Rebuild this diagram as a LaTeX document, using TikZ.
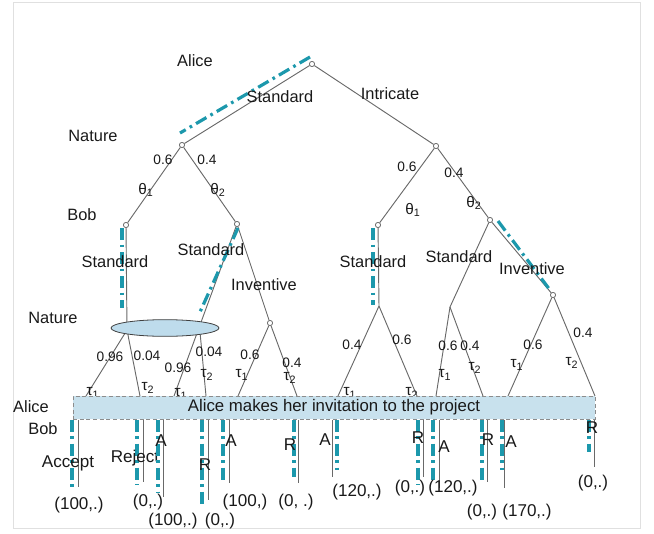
\documentclass[tikz,border=0pt]{standalone}
\usepackage{fontspec}
\setmainfont{Liberation Sans}
\usetikzlibrary{shapes.geometric}
\definecolor{teal1}{RGB}{28,152,172}
\definecolor{barfill}{RGB}{200,225,237}
\definecolor{ellfill}{RGB}{190,220,236}
\definecolor{edgegray}{RGB}{105,105,105}
\definecolor{txt}{RGB}{25,25,25}
\begin{document}
\begin{tikzpicture}[x=0.75pt,y=-0.75pt,
  dec/.style={circle,draw=edgegray,fill=white,inner sep=0pt,minimum size=3.8pt,line width=0.5pt},
  edge/.style={draw=edgegray,line width=0.7pt},
  eq/.style={draw=teal1,line width=2.4pt,dash pattern=on 9pt off 3.5pt on 2pt off 3.5pt},
  lab/.style={text=txt,font=\fontsize{12.3}{14}\selectfont,inner sep=1pt},
  prob/.style={text=txt,font=\fontsize{10.3}{12}\selectfont,inner sep=0.5pt},
  tau/.style={text=txt,font=\fontsize{11.5}{13}\selectfont,inner sep=0.5pt},
  pay/.style={text=txt,font=\fontsize{12.8}{14}\selectfont,inner sep=1pt},
  act/.style={text=txt,font=\fontsize{12.8}{14}\selectfont,inner sep=1pt}]
\useasboundingbox (0,0) rectangle (654,533);
\draw[black!12,line width=0.6pt] (13,2) rectangle (640,528);

% decision nodes
\node[dec] (root) at (312,64) {};
\node[dec] (natL) at (182,145) {};
\node[dec] (natR) at (436,146) {};
\node[dec] (bobLL) at (126,225) {};
\node[dec] (bobLR) at (237,224) {};
\node[dec] (bobRL) at (378,225) {};
\node[dec] (bobRR) at (490,220) {};
\coordinate (inL) at (127,330);
\coordinate (inR) at (200,332);
\node[dec] (inv) at (270,323) {};
\coordinate (n3) at (379,306);
\coordinate (n4) at (450,307);
\node[dec] (n5) at (553,295) {};
% ends at bar top
\foreach \n/\x in {t1/86,t2/140,t3/174,t4/206,t5/238,t6/297,t7/338,t8/417,t9/436,t10/483,t11/508,t12/595}
  \coordinate (\n) at (\x,396);

% top edges
\draw[edge] (root) -- (natL);
\draw[edge] (root) -- (natR);
\draw[edge] (natL) -- (bobLL);
\draw[edge] (natL) -- (bobLR);
\draw[edge] (natR) -- (bobRL);
\draw[edge] (natR) -- (bobRR);
\draw[edge] (bobLL) -- (inL);
\draw[edge] (bobLR) -- (t3);
\draw[edge] (bobLR) -- (inv);
\draw[edge] (bobRL) -- (n3);
\draw[edge] (bobRR) -- (n4);
\draw[edge] (bobRR) -- (n5);
\draw[edge] (inL) -- (t1);
\draw[edge] (inL) -- (t2);
\draw[edge] (inR) -- (t4);
\draw[edge] (inv) -- (t5);
\draw[edge] (inv) -- (t6);
\draw[edge] (n3) -- (t7);
\draw[edge] (n3) -- (t8);
\draw[edge] (n4) -- (t9);
\draw[edge] (n4) -- (t10);
\draw[edge] (n5) -- (t11);
\draw[edge] (n5) -- (t12);

% redraw nodes on top
\foreach \n in {root,natL,natR,bobLL,bobLR,bobRL,bobRR,inv,n5}
  \node[dec] at (\n) {};

% equilibrium paths (upper)
\draw[eq] ([shift={(-2,-7)}]root.center) -- ([shift={(-2,-12)}]natL.center);
\draw[eq] ([shift={(-4,3)}]bobLL.center) -- ([shift={(-4,83)}]bobLL.center);
\draw[eq] ([shift={(1,4)}]bobLR.center) -- ([shift={(-37,88)}]bobLR.center);
\draw[eq] ([shift={(-5,3)}]bobRL.center) -- ([shift={(-5,80)}]bobRL.center);
\draw[eq] ([shift={(8,1)}]bobRR.center) -- ([shift={(-3,-5)}]n5.center);

% ellipse (information set)
\node[ellipse,draw=black!75,fill=ellfill,line width=0.6pt,minimum width=81pt,minimum height=12.5pt,inner sep=0pt] (ell) at (165,328) {};

% labels
\node[lab] (lAlice) at (195,61) {Alice};
\node[lab] (lNat1) at (93,136) {Nature};
\node[lab] (lBob1) at (82,215) {Bob};
\node[lab] (lNat2) at (53,318) {Nature};
\node[lab] (lAlice2) at (31,407) {Alice};
\node[lab] (lBob2) at (43,429) {Bob};
\node[lab] at (280,97) {Standard};
\node[lab] at (390,94) {Intricate};
\node[lab] at (115,262) {Standard};
\node[lab] at (211,250) {Standard};
\node[lab] at (264,285) {Inventive};
\node[lab] at (373,262) {Standard};
\node[lab] at (459,257) {Standard};
\node[lab] at (532,269) {Inventive};

\node[prob] at (163,160) {0.6};
\node[prob] at (207,160) {0.4};
\node[tau] at (146,190) {θ\textsubscript{1}};
\node[tau] at (218,190) {θ\textsubscript{2}};
\node[prob] at (407,167) {0.6};
\node[prob] at (454,173) {0.4};
\node[tau] at (413,210) {θ\textsubscript{1}};
\node[tau] at (474,203) {θ\textsubscript{2}};

\node[prob] at (110,357) {0.96};
\node[prob] at (147,356) {0.04};
\node[tau] at (93,393) {τ\textsubscript{1}};
\node[tau] at (148,388) {τ\textsubscript{2}};
\node[prob] at (178,368) {0.96};
\node[prob] at (209,352) {0.04};
\node[tau] at (181,394) {τ\textsubscript{1}};
\node[tau] at (207,375) {τ\textsubscript{2}};
\node[prob] at (250,355) {0.6};
\node[prob] at (292,363) {0.4};
\node[tau] at (242,375) {τ\textsubscript{1}};
\node[tau] at (290,378) {τ\textsubscript{2}};
\node[prob] at (352,345) {0.4};
\node[prob] at (402,340) {0.6};
\node[tau] at (350,393) {τ\textsubscript{1}};
\node[tau] at (412,393) {τ\textsubscript{2}};
\node[prob] at (448,346) {0.6};
\node[prob] at (470,346) {0.4};
\node[tau] at (445,375) {τ\textsubscript{1}};
\node[tau] at (475,368) {τ\textsubscript{2}};
\node[prob] at (533,345) {0.6};
\node[prob] at (583,333) {0.4};
\node[tau] at (517,365) {τ\textsubscript{1}};
\node[tau] at (572,363) {τ\textsubscript{2}};

% bar (Alice's information set)
\node[draw=black!45,densely dashed,fill=barfill,line width=0.5pt,minimum width=391.5pt,minimum height=17pt,inner sep=0pt,text=txt,font=\fontsize{12.6}{14}\selectfont] (bar) at (334,407.5) {Alice makes her invitation to the project};

% leaves
\foreach \i/\gx/\gy/\tx/\ty/\a/\ax/\ay/\p/\px/\py in {
  1/78/487/72/487/Accept/68/463/{(100,.)}/79/505,
  2/143/482/137/485/Reject/135/458/{(0,.)}/148/502,
  3/163/497/158/493/A/161/441/{(100,.)}/173/521,
  4/208/500/202/505/R/205/465/{(0,.)}/220/521,
  5/229/483/223/482/A/231/441/{(100,)}/245/502,
  6/298/483/294/477/R/290/445/{(0, .)}/296/502,
  7/332/477/337/470/A/325/440/{(120,.)}/357/492,
  8/423/477/418/485/R/418/438/{(0,.)}/410/488,
  9/439/488/433/483/A/444/447/{(120,.)}/453/488,
  10/487/482/482/482/R/488/440/{(0,.)}/482/512,
  11/504/488/502/470/A/511/442/{(170,.)}/527/512,
  12/594/467/589/452/R/592/428/{(0,.)}/593/483}{
  \coordinate (g\i) at (\gx,419.5);
  \coordinate (ge\i) at (\gx,\gy);
  \coordinate (q\i) at (\tx,419.5);
  \coordinate (qe\i) at (\tx,\ty);
  \draw[edge] (g\i) -- (ge\i);
  \draw[eq] (q\i) -- (qe\i);
  \node[act] (a\i) at (\ax,\ay) {\a};
  \node[pay] (p\i) at (\px,\py) {\p};
}
\end{tikzpicture}
\end{document}
